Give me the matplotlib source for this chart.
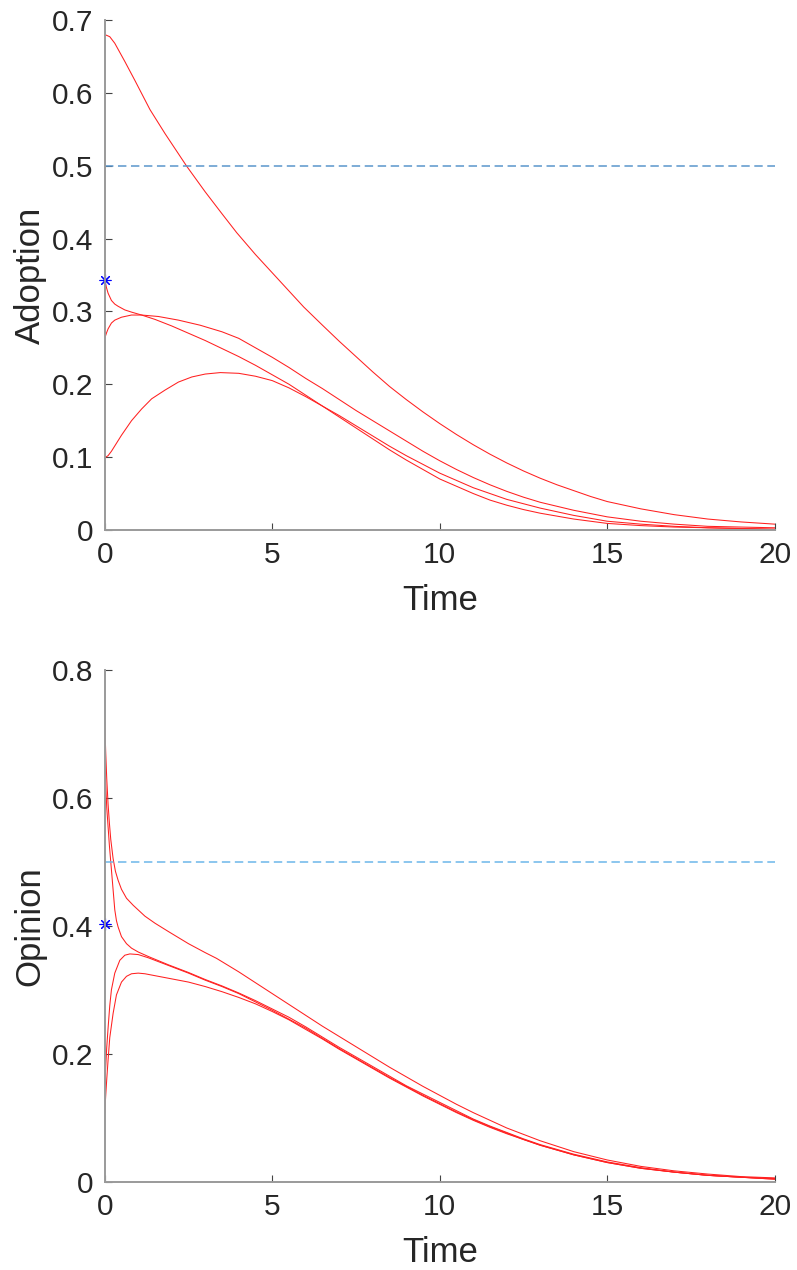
import numpy as np
import matplotlib
matplotlib.use("Agg")
import matplotlib.pyplot as plt

plt.rcParams['font.family'] = ['Liberation Sans', 'DejaVu Sans']

# adoption trajectories
t_adopt_a = [0, 0.15, 0.3, 0.6, 0.9, 1.35, 1.8, 2.45, 3, 3.5, 3.94, 4.5, 5, 5.5, 5.94, 6.5, 7, 7.5, 8,
             8.5, 9, 9.5, 10, 10.5, 11, 11.5, 12, 12.5, 13, 13.5, 14, 14.5, 15, 16, 17, 18, 19, 20]
adopt_a = [0.680, 0.677, 0.668, 0.643, 0.617, 0.577, 0.544, 0.499, 0.464, 0.434, 0.408, 0.378, 0.353,
           0.328, 0.306, 0.281, 0.259, 0.238, 0.217, 0.197, 0.179, 0.162, 0.146, 0.131, 0.117, 0.104,
           0.092, 0.081, 0.071, 0.062, 0.054, 0.046, 0.039, 0.029, 0.021, 0.015, 0.011, 0.008]

t_adopt_b = [0, 0.05, 0.1, 0.2, 0.3, 0.4, 0.6, 0.8, 1.1, 1.5, 2, 2.5, 3, 3.5, 4, 4.5, 5, 5.5, 6, 6.5,
             7, 7.5, 8, 8.5, 9, 9.5, 10, 10.5, 11, 11.5, 12, 12.5, 13, 14, 15, 16, 17, 18, 19, 20]
adopt_b = [0.343, 0.333, 0.325, 0.315, 0.310, 0.307, 0.302, 0.299, 0.295, 0.289, 0.280, 0.270, 0.260,
           0.249, 0.238, 0.226, 0.213, 0.200, 0.185, 0.170, 0.155, 0.140, 0.125, 0.110, 0.096, 0.083,
           0.070, 0.060, 0.050, 0.041, 0.034, 0.028, 0.023, 0.015, 0.009, 0.006, 0.004, 0.003, 0.002,
           0.001]

t_adopt_c = [0, 0.05, 0.1, 0.2, 0.3, 0.5, 0.8, 1.1, 1.6, 2.2, 2.85, 3.5, 4, 4.5, 5, 5.5, 6, 6.5, 7,
             7.5, 8, 8.5, 9, 9.5, 10, 10.5, 11, 11.5, 12, 12.5, 13, 14, 15, 16, 17, 18, 19, 20]
adopt_c = [0.263, 0.270, 0.276, 0.284, 0.288, 0.292, 0.295, 0.295, 0.293, 0.288, 0.281, 0.272, 0.263,
           0.250, 0.237, 0.223, 0.208, 0.194, 0.179, 0.164, 0.150, 0.136, 0.122, 0.108, 0.095, 0.083,
           0.072, 0.062, 0.053, 0.045, 0.038, 0.027, 0.018, 0.012, 0.008, 0.005, 0.004, 0.003]

t_adopt_d = [0, 0.1, 0.2, 0.35, 0.5, 0.8, 1.1, 1.4, 1.8, 2.2, 2.6, 3, 3.45, 4, 4.5, 5, 5.5, 6, 6.5, 7,
             7.5, 8, 8.5, 9, 9.5, 10, 10.5, 11, 11.5, 12, 12.5, 13, 14, 15, 16, 17, 18, 19, 20]
adopt_d = [0.099, 0.102, 0.108, 0.119, 0.130, 0.150, 0.166, 0.180, 0.192, 0.203, 0.210, 0.214, 0.216,
           0.215, 0.211, 0.205, 0.195, 0.183, 0.170, 0.157, 0.143, 0.129, 0.115, 0.102, 0.090, 0.078,
           0.068, 0.058, 0.050, 0.042, 0.036, 0.030, 0.020, 0.012, 0.008, 0.005, 0.003, 0.002, 0.001]

# opinion trajectories
t_op_e = [0, 0.03, 0.06, 0.1, 0.14, 0.18, 0.25, 0.32, 0.4, 0.5, 0.65, 0.85, 1.2, 1.5, 1.9, 2.5, 3,
          3.34, 4, 4.5, 5, 5.5, 6, 6.5, 7, 7.5, 8, 8.5, 9, 9.5, 10, 10.5, 11, 11.5, 12, 12.5, 13, 14,
          15, 16, 17, 18, 19, 20]
op_e = [0.72, 0.67, 0.63, 0.59, 0.56, 0.535, 0.505, 0.485, 0.471, 0.457, 0.443, 0.432, 0.415, 0.404,
        0.391, 0.372, 0.358, 0.349, 0.328, 0.311, 0.294, 0.277, 0.260, 0.243, 0.227, 0.211, 0.195,
        0.179, 0.164, 0.149, 0.135, 0.121, 0.108, 0.096, 0.084, 0.074, 0.064, 0.047, 0.034, 0.024,
        0.017, 0.012, 0.008, 0.006]

t_op_f = [0, 0.03, 0.06, 0.1, 0.14, 0.18, 0.22, 0.26, 0.3, 0.35, 0.4, 0.5, 0.65, 0.8, 1.0, 1.3, 1.9,
          2.5, 3, 3.5, 4, 4.5, 5, 5.5, 6, 6.5, 7, 7.5, 8, 8.5, 9, 9.5, 10, 10.5, 11, 11.5, 12, 12.5,
          13, 14, 15, 16, 17, 18, 19, 20]
op_f = [0.654, 0.62, 0.585, 0.555, 0.525, 0.50, 0.475, 0.45, 0.425, 0.408, 0.398, 0.383, 0.372,
        0.365, 0.359, 0.352, 0.339, 0.327, 0.316, 0.306, 0.295, 0.283, 0.270, 0.257, 0.242, 0.226,
        0.210, 0.195, 0.180, 0.165, 0.150, 0.137, 0.124, 0.111, 0.098, 0.087, 0.077, 0.067, 0.058,
        0.043, 0.031, 0.022, 0.015, 0.010, 0.007, 0.005]

t_op_g = [0, 0.03, 0.06, 0.1, 0.15, 0.2, 0.3, 0.45, 0.6, 0.75, 1.0, 1.3, 1.9, 2.5, 3, 3.5, 4, 4.5, 5,
          5.5, 6, 6.5, 7, 7.5, 8, 8.5, 9, 9.5, 10, 10.5, 11, 11.5, 12, 12.5, 13, 14, 15, 16, 17, 18,
          19, 20]
op_g = [0.148, 0.18, 0.21, 0.24, 0.275, 0.30, 0.326, 0.346, 0.354, 0.356, 0.355, 0.350, 0.338, 0.326,
        0.315, 0.305, 0.294, 0.281, 0.268, 0.254, 0.240, 0.224, 0.208, 0.193, 0.178, 0.163, 0.149,
        0.135, 0.122, 0.109, 0.097, 0.086, 0.076, 0.066, 0.057, 0.042, 0.030, 0.021, 0.015, 0.010,
        0.007, 0.004]

t_op_h = [0, 0.03, 0.06, 0.1, 0.15, 0.25, 0.35, 0.5, 0.65, 0.8, 1.0, 1.2, 1.9, 2.5, 3, 3.5, 4, 4.5, 5,
          5.5, 6, 6.5, 7, 7.5, 8, 8.5, 9, 9.5, 10, 10.5, 11, 11.5, 12, 12.5, 13, 14, 15, 16, 17, 18,
          19, 20]
op_h = [0.107, 0.135, 0.16, 0.19, 0.225, 0.263, 0.292, 0.312, 0.321, 0.325, 0.326, 0.325, 0.318,
        0.312, 0.305, 0.297, 0.288, 0.278, 0.266, 0.253, 0.238, 0.223, 0.207, 0.192, 0.177, 0.162,
        0.148, 0.134, 0.121, 0.108, 0.096, 0.085, 0.075, 0.066, 0.057, 0.042, 0.030, 0.021, 0.015,
        0.010, 0.007, 0.004]

adopt_start = 0.343
op_start = 0.403
threshold = 0.5

text_col = '#262626'
spine_col = '#9a9a9a'


def style_axes(ax, ylim, yticks, yticklabels, ylabel):
    ax.set_xlim(0, 20)
    ax.set_ylim(*ylim)
    ax.set_xticks([0, 5, 10, 15, 20])
    ax.set_yticks(yticks)
    ax.set_yticklabels(yticklabels)
    ax.spines['top'].set_visible(False)
    ax.spines['right'].set_visible(False)
    for s in ('left', 'bottom'):
        ax.spines[s].set_color(spine_col)
        ax.spines[s].set_linewidth(1.4)
    ax.tick_params(direction='in', length=5, width=0.8, color='#444444',
                   labelsize=21.5, labelcolor=text_col, pad=8)
    ax.set_xlabel('Time', fontsize=25, color=text_col, labelpad=11)
    ax.set_ylabel(ylabel, fontsize=25, color=text_col, labelpad=4)


fig = plt.figure(figsize=(7.97, 12.7), dpi=100)
ax1 = fig.add_axes([0.1314, 0.5827, 0.8407, 0.4016])
ax2 = fig.add_axes([0.1314, 0.0695, 0.8407, 0.4031])

star = (8, 2, 0)

# top: adoption
for tt, yy in [(t_adopt_a, adopt_a), (t_adopt_b, adopt_b), (t_adopt_c, adopt_c), (t_adopt_d, adopt_d)]:
    ax1.plot(tt, yy, color='#ff2020', lw=0.75)
ax1.axhline(threshold, color='#5a96cc', lw=1.1, dashes=(5.5, 3))
ax1.plot([0], [adopt_start], marker=star, color='blue', ms=8.5, markeredgewidth=0.8,
         linestyle='none', clip_on=False)
style_axes(ax1, (0, 0.7), [0, 0.1, 0.2, 0.3, 0.4, 0.5, 0.6, 0.7],
           ['0', '0.1', '0.2', '0.3', '0.4', '0.5', '0.6', '0.7'], 'Adoption')

# bottom: opinion
for tt, yy in [(t_op_e, op_e), (t_op_f, op_f), (t_op_g, op_g), (t_op_h, op_h)]:
    ax2.plot(tt, yy, color='#ff2020', lw=0.75)
ax2.axhline(threshold, color='#6cb6ea', lw=1.1, dashes=(5.5, 3))
ax2.plot([0], [op_start], marker=star, color='blue', ms=8.5, markeredgewidth=0.8,
         linestyle='none', clip_on=False)
style_axes(ax2, (0, 0.8), [0, 0.2, 0.4, 0.6, 0.8],
           ['0', '0.2', '0.4', '0.6', '0.8'], 'Opinion')

fig.savefig('out.png', dpi=100)
